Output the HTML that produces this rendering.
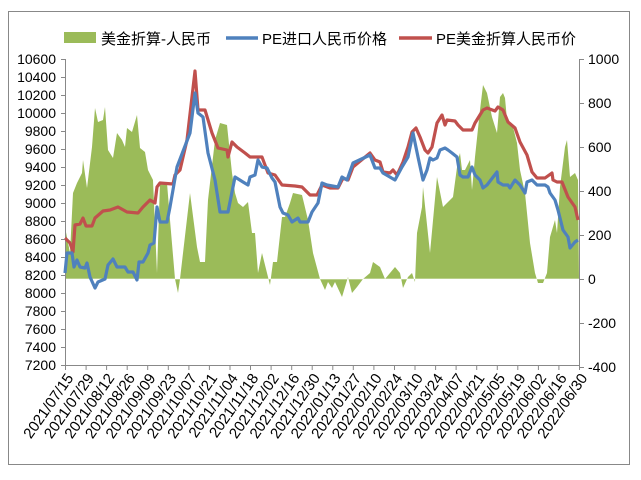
<!DOCTYPE html>
<html><head><meta charset="utf-8"><style>
body{margin:0;background:#fff;}
svg text{font-family:"Liberation Sans","Noto Sans CJK SC",sans-serif;}
</style></head><body>
<svg width="641" height="475" viewBox="0 0 641 475" xmlns="http://www.w3.org/2000/svg">
<rect x="0" y="0" width="641" height="475" fill="#fff"/>
<rect x="8.5" y="11.5" width="621" height="453" fill="#fff" stroke="#888" stroke-width="1"/>
<polygon fill="#9BBB59" points="65,279 65,227 70,253 73,193 77,183 82,173 83,160 87,188 92,147 95,108 98,122 103,120 105,107 108,150 113,158 117,133 122,140 125,147 127,128 132,132 137,115 140,148 145,152 148,170 153,180 157,273 160,183 167,183 170,220 175,279 178,293 180,279 190,193 197,247 200,262 205,262 208,200 215,140 220,123 227,125 232,173 235,193 238,203 243,207 248,202 252,233 255,233 258,273 262,253 267,273 270,285 273,262 277,262 282,217 285,217 290,203 293,193 302,195 308,220 313,253 320,279 325,290 328,282 332,288 335,282 342,297 348,277 352,293 357,287 363,279 370,273 373,262 380,267 385,279 390,273 395,267 400,273 403,288 408,277 412,273 415,282 417,233 422,207 423,187 430,253 437,177 443,207 453,197 458,160 460,153 462,170 465,170 470,160 472,190 475,157 480,110 483,85 487,93 492,117 497,133 500,97 503,93 505,98 507,120 513,127 517,143 520,170 525,193 530,243 535,273 538,283 543,283 547,273 550,237 555,220 557,233 560,187 565,147 567,140 570,177 575,173 578,180 579,279"/>
<line x1="65" y1="279" x2="579" y2="279" stroke="#fff" stroke-width="1" opacity="0.6"/>
<g stroke="#888" stroke-width="1" fill="none">
<line x1="65.5" y1="59" x2="65.5" y2="365"/>
<line x1="579.5" y1="59" x2="579.5" y2="365"/>
<line x1="65" y1="365.5" x2="579" y2="365.5"/>
</g>
<polyline fill="none" stroke="#C0504D" stroke-width="3.2" stroke-linejoin="round" points="65,238 70,243 73,252 75,225 80,224 83,218 86,226 92,226 95,218 103,211 110,210 118,207 127,212 138,213 143,207 150,200 155,203 157,187 160,183 173,184 175,175 180,170 187,140 195,71 198,110 205,110 212,133 218,148 227,150 228,157 232,142 237,147 245,153 250,157 262,157 268,173 275,175 282,185 295,186 302,187 310,195 317,195 322,185 330,188 338,188 343,178 348,180 353,167 370,153 375,160 380,162 383,172 390,173 393,170 397,175 403,162 408,147 412,132 416,128 420,137 425,150 428,153 432,147 437,123 442,115 445,125 447,120 455,121 458,125 463,130 472,130 475,123 483,110 487,108 495,111 498,107 503,110 508,122 515,128 520,142 527,155 532,172 537,178 545,178 552,173 553,180 557,182 562,182 568,197 575,207 578,220"/>
<polyline fill="none" stroke="#4F81BD" stroke-width="3.2" stroke-linejoin="round" points="65,273 67,253 72,253 74,267 77,260 80,267 85,268 87,263 90,277 95,288 98,282 105,279 108,265 113,259 117,267 125,267 128,272 133,272 137,280 139,262 143,262 148,253 150,245 154,243 157,207 160,222 167,222 170,207 177,167 190,133 195,93 198,113 203,117 208,153 215,180 220,212 228,212 235,177 243,182 248,185 250,177 255,175 258,160 262,167 267,168 272,178 275,182 280,207 283,213 288,215 292,222 298,218 300,222 308,222 312,212 318,203 322,183 327,185 338,187 342,177 347,180 353,163 370,155 375,168 380,168 383,173 395,180 402,167 408,157 413,133 418,157 423,180 427,170 430,158 433,160 437,158 440,150 445,148 448,150 452,153 457,157 460,175 463,177 468,177 472,167 475,175 480,180 483,188 487,185 497,172 498,182 503,185 508,185 510,188 515,180 520,185 525,193 527,182 532,180 537,185 545,185 548,187 550,193 555,200 558,210 563,230 568,237 570,248 575,242 578,240"/>
<g font-size="14" fill="#000" text-anchor="end">
<text x="56" y="64">10600</text><text x="56" y="82">10400</text><text x="56" y="100">10200</text><text x="56" y="118">10000</text>
<text x="56" y="136">9800</text><text x="56" y="154">9600</text><text x="56" y="172">9400</text><text x="56" y="190">9200</text>
<text x="56" y="208">9000</text><text x="56" y="226">8800</text><text x="56" y="244">8600</text><text x="56" y="262">8400</text>
<text x="56" y="280">8200</text><text x="56" y="298">8000</text><text x="56" y="316">7800</text><text x="56" y="334">7600</text>
<text x="56" y="352">7400</text><text x="56" y="370">7200</text>
</g>
<g font-size="14" fill="#000" text-anchor="start">
<text x="588" y="64">1000</text><text x="588" y="108">800</text><text x="588" y="152">600</text><text x="588" y="196">400</text>
<text x="588" y="240">200</text><text x="588" y="284">0</text><text x="588" y="328">-200</text><text x="588" y="372">-400</text>
</g>
<g stroke="#888" stroke-width="1">
<line x1="61" y1="59.5" x2="65" y2="59.5"/><line x1="61" y1="77.5" x2="65" y2="77.5"/><line x1="61" y1="95.5" x2="65" y2="95.5"/><line x1="61" y1="113.5" x2="65" y2="113.5"/><line x1="61" y1="131.5" x2="65" y2="131.5"/><line x1="61" y1="149.5" x2="65" y2="149.5"/><line x1="61" y1="167.5" x2="65" y2="167.5"/><line x1="61" y1="185.5" x2="65" y2="185.5"/><line x1="61" y1="203.5" x2="65" y2="203.5"/><line x1="61" y1="221.5" x2="65" y2="221.5"/><line x1="61" y1="239.5" x2="65" y2="239.5"/><line x1="61" y1="257.5" x2="65" y2="257.5"/><line x1="61" y1="275.5" x2="65" y2="275.5"/><line x1="61" y1="293.5" x2="65" y2="293.5"/><line x1="61" y1="311.5" x2="65" y2="311.5"/><line x1="61" y1="329.5" x2="65" y2="329.5"/><line x1="61" y1="347.5" x2="65" y2="347.5"/><line x1="61" y1="365.5" x2="65" y2="365.5"/>
<line x1="579" y1="59.5" x2="584" y2="59.5"/><line x1="579" y1="103.5" x2="584" y2="103.5"/><line x1="579" y1="147.5" x2="584" y2="147.5"/><line x1="579" y1="191.5" x2="584" y2="191.5"/><line x1="579" y1="235.5" x2="584" y2="235.5"/><line x1="579" y1="279.5" x2="584" y2="279.5"/><line x1="579" y1="323.5" x2="584" y2="323.5"/><line x1="579" y1="367.5" x2="584" y2="367.5"/>
</g>
<g stroke="#888" stroke-width="1">
<line x1="65.5" y1="365" x2="65.5" y2="370"/><line x1="86.1" y1="365" x2="86.1" y2="370"/><line x1="106.6" y1="365" x2="106.6" y2="370"/><line x1="127.2" y1="365" x2="127.2" y2="370"/><line x1="147.7" y1="365" x2="147.7" y2="370"/><line x1="168.3" y1="365" x2="168.3" y2="370"/><line x1="188.9" y1="365" x2="188.9" y2="370"/><line x1="209.4" y1="365" x2="209.4" y2="370"/><line x1="230" y1="365" x2="230" y2="370"/><line x1="250.5" y1="365" x2="250.5" y2="370"/><line x1="271.1" y1="365" x2="271.1" y2="370"/><line x1="291.7" y1="365" x2="291.7" y2="370"/><line x1="312.2" y1="365" x2="312.2" y2="370"/><line x1="332.8" y1="365" x2="332.8" y2="370"/><line x1="353.3" y1="365" x2="353.3" y2="370"/><line x1="373.9" y1="365" x2="373.9" y2="370"/><line x1="394.5" y1="365" x2="394.5" y2="370"/><line x1="415" y1="365" x2="415" y2="370"/><line x1="435.6" y1="365" x2="435.6" y2="370"/><line x1="456.1" y1="365" x2="456.1" y2="370"/><line x1="476.7" y1="365" x2="476.7" y2="370"/><line x1="497.3" y1="365" x2="497.3" y2="370"/><line x1="517.8" y1="365" x2="517.8" y2="370"/><line x1="538.4" y1="365" x2="538.4" y2="370"/><line x1="558.9" y1="365" x2="558.9" y2="370"/><line x1="579.5" y1="365" x2="579.5" y2="370"/>
</g>
<g font-size="15" fill="#000" text-anchor="end">
<text transform="translate(74,378) rotate(-55)">2021/07/15</text>
<text transform="translate(94.6,378) rotate(-55)">2021/07/29</text>
<text transform="translate(115.1,378) rotate(-55)">2021/08/12</text>
<text transform="translate(135.7,378) rotate(-55)">2021/08/26</text>
<text transform="translate(156.2,378) rotate(-55)">2021/09/09</text>
<text transform="translate(176.8,378) rotate(-55)">2021/09/23</text>
<text transform="translate(197.4,378) rotate(-55)">2021/10/07</text>
<text transform="translate(217.9,378) rotate(-55)">2021/10/21</text>
<text transform="translate(238.5,378) rotate(-55)">2021/11/04</text>
<text transform="translate(259,378) rotate(-55)">2021/11/18</text>
<text transform="translate(279.6,378) rotate(-55)">2021/12/02</text>
<text transform="translate(300.2,378) rotate(-55)">2021/12/16</text>
<text transform="translate(320.7,378) rotate(-55)">2021/12/30</text>
<text transform="translate(341.3,378) rotate(-55)">2022/01/13</text>
<text transform="translate(361.8,378) rotate(-55)">2022/01/27</text>
<text transform="translate(382.4,378) rotate(-55)">2022/02/10</text>
<text transform="translate(403,378) rotate(-55)">2022/02/24</text>
<text transform="translate(423.5,378) rotate(-55)">2022/03/10</text>
<text transform="translate(444.1,378) rotate(-55)">2022/03/24</text>
<text transform="translate(464.6,378) rotate(-55)">2022/04/07</text>
<text transform="translate(485.2,378) rotate(-55)">2022/04/21</text>
<text transform="translate(505.8,378) rotate(-55)">2022/05/05</text>
<text transform="translate(526.3,378) rotate(-55)">2022/05/19</text>
<text transform="translate(546.9,378) rotate(-55)">2022/06/02</text>
<text transform="translate(567.4,378) rotate(-55)">2022/06/16</text>
<text transform="translate(588,378) rotate(-55)">2022/06/30</text>
</g>
<rect x="64" y="32" width="32" height="11" fill="#9BBB59"/>
<text x="101" y="44" font-size="15" fill="#000">美金折算-人民币</text>
<line x1="226" y1="38" x2="258" y2="38" stroke="#4F81BD" stroke-width="3.5"/>
<text x="262" y="44" font-size="15" fill="#000">PE进口人民币价格</text>
<line x1="399" y1="38" x2="432" y2="38" stroke="#C0504D" stroke-width="3.5"/>
<text x="436" y="44" font-size="15" fill="#000">PE美金折算人民币价</text>
</svg>
</body></html>
